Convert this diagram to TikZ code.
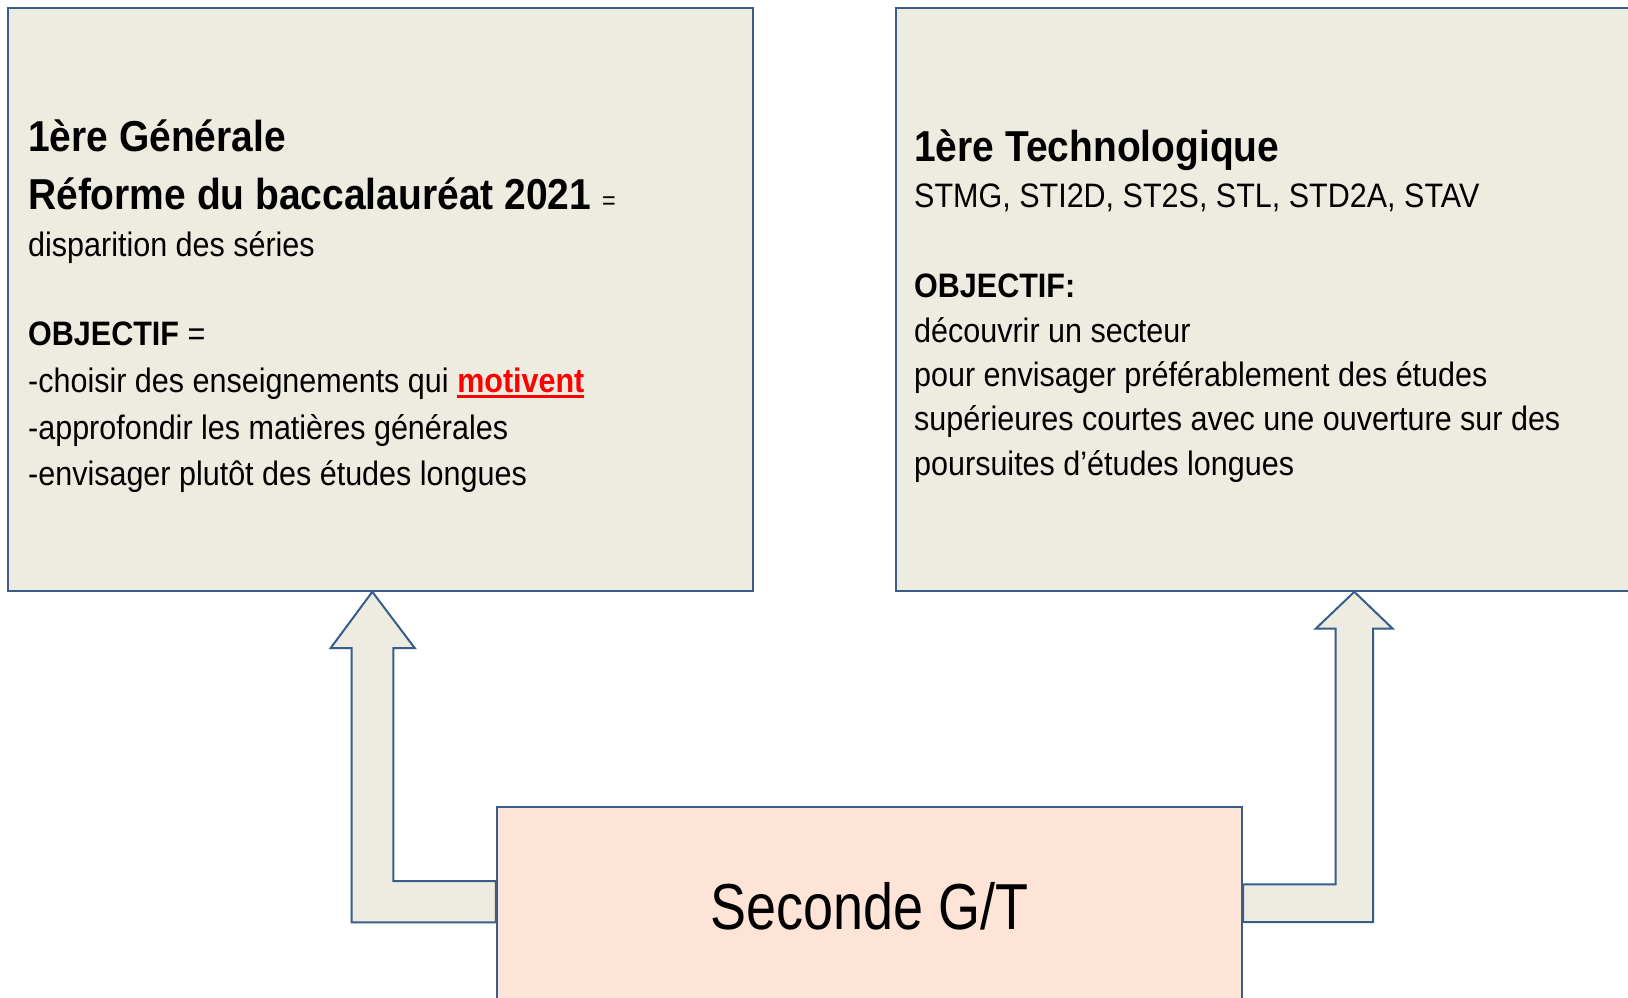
\documentclass[tikz,border=0pt]{standalone}
\usepackage{fontspec}
\setmainfont[FakeStretch=0.9]{Liberation Sans}
\newfontfamily\secondefont[FakeStretch=0.83]{Liberation Sans}

\definecolor{fondbox}{HTML}{EEECE1}
\definecolor{bordbox}{HTML}{385D8A}
\definecolor{peche}{HTML}{FDE4D6}

\newcommand{\souligne}[1]{\sbox0{#1}\rlap{\rule[-5pt]{\wd0}{2.5pt}}\usebox0}

\begin{document}
\begin{tikzpicture}[x=1pt, y=-1pt,
        cadre/.style={draw=bordbox, line width=2pt, fill=fondbox, inner sep=0pt},
        fleche/.style={draw=bordbox, line width=2pt, fill=fondbox},
        titre/.style={anchor=base west, inner sep=0pt, font=\bfseries\fontsize{43.3}{50}\selectfont},
        petit/.style={anchor=base west, inner sep=0pt, font=\fontsize{33.9}{40}\selectfont}]
        \useasboundingbox (0, 0) rectangle (1628, 997);
        \fill[white] (0, 0) rectangle (1628, 997);
        \clip (0, 0) rectangle (1628, 997);

        \node[cadre, minimum width=744.5pt, minimum height=582.5pt] at (380.55, 299.55) (gen) {};
        \node[cadre, minimum width=754.5pt, minimum height=582.5pt] at (1272.75, 299.55) (tec) {};
        \node[cadre, fill=peche, minimum width=745.2pt, minimum height=230pt] at (869.4, 922) (sec) {};

        % premiere generale
        \node[titre] at (28, 151) (g1) {1ère Générale};
        \node[titre] at (28, 209.5) (g2) {Réforme du baccalauréat 2021 {\mdseries\fontsize{26}{30}\selectfont =}};
        \node[petit] at (28, 256.7) (g3) {disparition des séries};
        \node[petit] at (28, 345.5) (g4) {\textbf{OBJECTIF} =};
        \node[petit] at (28, 392.5) (g5) {-choisir des enseignements qui \textcolor{red}{\souligne{\textbf{motivent}}}};
        \node[petit] at (28, 439.3) (g6) {-approfondir les matières générales};
        \node[petit] at (28, 485) (g7) {-envisager plutôt des études longues};

        % premiere technologique
        \node[titre] at (914, 161) (t1) {1ère Technologique};
        \node[petit] at (914, 207.7) (t2) {STMG, STI2D, ST2S, STL, STD2A, STAV};
        \node[petit] at (914, 297) (t3) {\textbf{OBJECTIF:}};
        \node[petit] at (914, 342) (t4) {découvrir un secteur};
        \node[petit] at (914, 386) (t5) {pour envisager préférablement des études};
        \node[petit] at (914, 430.5) (t6) {supérieures courtes avec une ouverture sur des};
        \node[petit] at (914, 475) (t7) {poursuites d’études longues};

        \node[anchor=base, inner sep=0pt, font=\secondefont\fontsize{65}{70}\selectfont] at (869.4, 929.3) (s1) {Seconde G/T};

        % fleches coudees
        \draw[fleche] (372.3,0 |- gen.south) -- (414.7, 648) -- (393.3, 648) -- (393.3, 881)
            -- (sec.west |- 0,881) -- (sec.west |- 0,922.3) -- (351.7, 922.3) -- (351.7, 648)
            -- (330.7, 648) -- cycle;
        \draw[fleche] (1354.3,0 |- tec.south) -- (1392.7, 628.7) -- (1373, 628.7) -- (1373, 922)
            -- (sec.east |- 0,922) -- (sec.east |- 0,884.3) -- (1335.7, 884.3) -- (1335.7, 628.7)
            -- (1315.7, 628.7) -- cycle;
\end{tikzpicture}
\end{document}
